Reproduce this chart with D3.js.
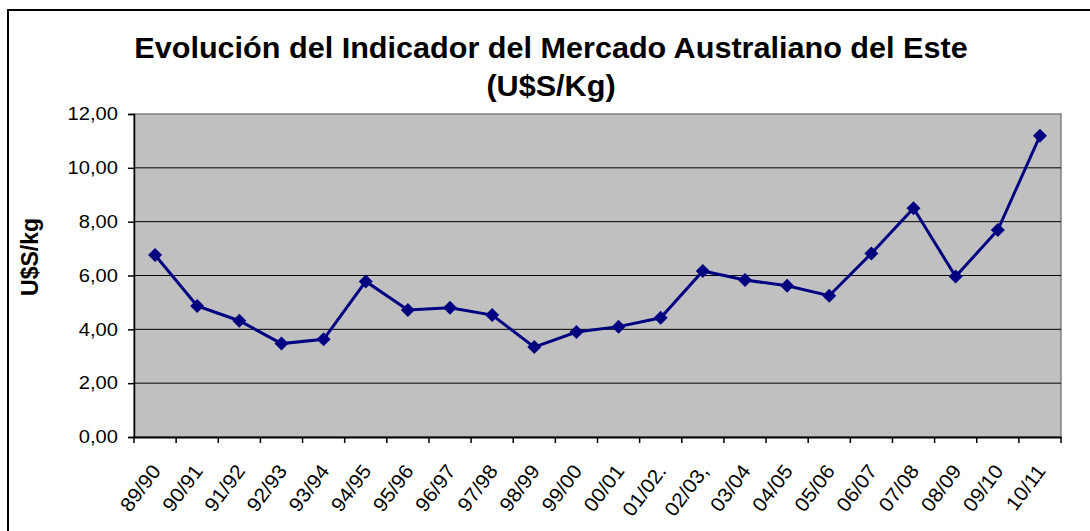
<!DOCTYPE html>
<html>
<head>
<meta charset="utf-8">
<script src="https://cdn.jsdelivr.net/npm/d3@7"></script>
<style>
  body { margin: 0; background: #fff; }
  svg { display: block; font-family: "Liberation Sans", Arial, sans-serif; }
</style>
</head>
<body>
<svg width="1090" height="531"></svg>
<script>
// data
var seasons = ["89/90", "90/91", "91/92", "92/93", "93/94", "94/95", "95/96", "96/97", "97/98", "98/99",
    "99/00", "00/01", "01/02.", "02/03,", "03/04", "04/05", "05/06", "06/07", "07/08", "08/09", "09/10", "10/11"];
var prices = [6.76, 4.87, 4.32, 3.47, 3.63, 5.78, 4.72, 4.80, 4.53, 3.34,
    3.90, 4.10, 4.43, 6.17, 5.83, 5.62, 5.25, 6.82, 8.50, 5.96, 7.69, 11.19];
var yTicks = [0, 2, 4, 6, 8, 10, 12];
var titleLines = ["Evolución del Indicador del Mercado Australiano del Este", "(U$S/Kg)"];

var svg = d3.select("svg");
var plot = { left: 134, right: 1061, top: 114, bottom: 437 };
var fmt = function (d) { return d3.format(".2f")(d).replace(".", ","); };

// outer frame
svg.append("rect")
    .attr("x", 8).attr("y", 10)
    .attr("width", 1100).attr("height", 540)
    .attr("fill", "#fff").attr("stroke", "#000").attr("stroke-width", 2);

var x = d3.scaleBand().domain(seasons).range([plot.left, plot.right]);
var y = d3.scaleLinear().domain([0, 12]).range([plot.bottom, plot.top]);

// plot background
svg.append("rect")
    .attr("x", plot.left).attr("y", plot.top)
    .attr("width", plot.right - plot.left).attr("height", plot.bottom - plot.top)
    .attr("fill", "#c0c0c0").attr("stroke", "#808080").attr("stroke-width", 1.5);

// gridlines
svg.append("g").selectAll("line")
    .data(yTicks.filter(function (d) { return d > 0 && d < 12; }))
    .enter().append("line")
    .attr("x1", plot.left).attr("x2", plot.right)
    .attr("y1", function (d) { return y(d); }).attr("y2", function (d) { return y(d); })
    .attr("stroke", "#000").attr("stroke-width", 1);

// y axis (labels drawn separately so they can be widened like the original)
var yAxis = svg.append("g")
    .attr("transform", "translate(" + plot.left + ",0)")
    .call(d3.axisLeft(y).tickValues(yTicks).tickSize(6).tickFormat(""));
yAxis.selectAll("line, path").attr("stroke", "#000").attr("stroke-width", 1.5);

svg.append("g").selectAll("text")
    .data(yTicks)
    .enter().append("text")
    .attr("transform", function (d) { return "translate(118," + y(d) + ") scale(1.12,1)"; })
    .attr("text-anchor", "end")
    .attr("dy", "0.35em")
    .attr("font-size", 18)
    .text(fmt);

// x axis
var xAxis = svg.append("g")
    .attr("transform", "translate(0," + plot.bottom + ")")
    .call(d3.axisBottom(x).tickSize(0).tickFormat(""));
xAxis.select("path").attr("stroke", "#000").attr("stroke-width", 2);

svg.append("g").selectAll("line")
    .data(seasons.concat(["end"]))
    .enter().append("line")
    .attr("x1", function (d, i) { return plot.left + i * x.step(); })
    .attr("x2", function (d, i) { return plot.left + i * x.step(); })
    .attr("y1", plot.bottom).attr("y2", plot.bottom + 6)
    .attr("stroke", "#000").attr("stroke-width", 1.5);

svg.append("g").selectAll("text")
    .data(seasons)
    .enter().append("text")
    .attr("transform", function (d) {
        return "translate(" + (x(d) + x.bandwidth() / 2 + 1) + "," + (plot.bottom + 30) + ") rotate(-53) scale(1.05,1)";
    })
    .attr("text-anchor", "end")
    .attr("dy", "0.35em")
    .attr("font-size", 20)
    .text(function (d) { return d; });

// line + markers
var line = d3.line()
    .x(function (d, i) { return x(seasons[i]) + x.bandwidth() / 2; })
    .y(function (d) { return y(d); });

svg.append("path")
    .datum(prices)
    .attr("d", line)
    .attr("fill", "none")
    .attr("stroke", "#000080")
    .attr("stroke-width", 3);

svg.append("g").selectAll("path")
    .data(prices)
    .enter().append("path")
    .attr("d", d3.symbol().type(d3.symbolDiamond2).size(125))
    .attr("transform", function (d, i) {
        return "translate(" + (x(seasons[i]) + x.bandwidth() / 2) + "," + y(d) + ")";
    })
    .attr("fill", "#000080");

// title
svg.append("g").selectAll("text")
    .data(titleLines)
    .enter().append("text")
    .attr("transform", function (d, i) { return "translate(551," + (58 + i * 38) + ") scale(1.055,1)"; })
    .attr("text-anchor", "middle")
    .attr("font-size", 29)
    .attr("font-weight", "bold")
    .text(function (d) { return d; });

// y label
svg.append("text")
    .attr("transform", "translate(38,257) rotate(-90)")
    .attr("text-anchor", "middle")
    .attr("font-size", 23)
    .attr("font-weight", "bold")
    .text("U$S/kg");
</script>
</body>
</html>
